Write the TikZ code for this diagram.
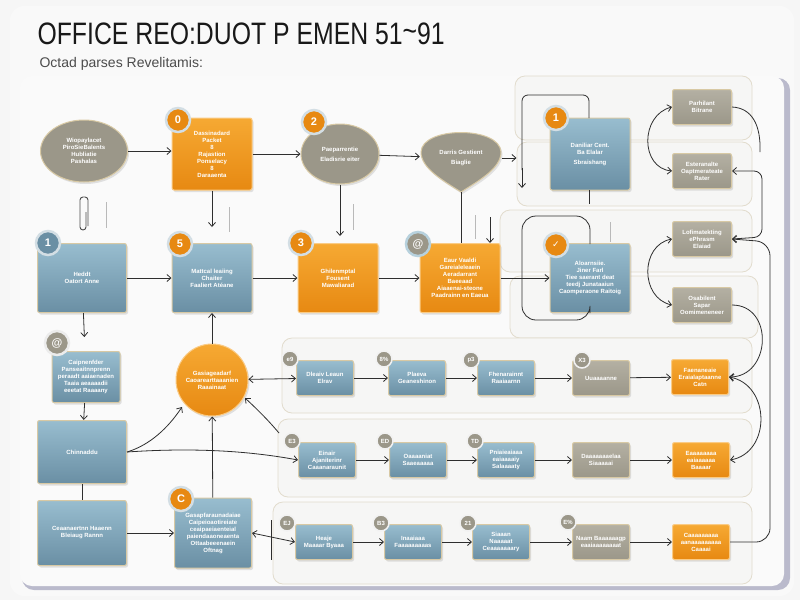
\documentclass[tikz,border=0pt]{standalone}
\usepackage{fontspec}
\setmainfont{Liberation Sans}
\newfontfamily\symfont{DejaVu Sans}
\usepackage{graphicx}
\usetikzlibrary{arrows.meta,positioning,shadows,calc,shapes.geometric}
\definecolor{orngT}{HTML}{F6A933}
\definecolor{orngB}{HTML}{E78912}
\definecolor{bluT}{HTML}{98BDCF}
\definecolor{bluB}{HTML}{6A8FA4}
\definecolor{gryT}{HTML}{B4B0A3}
\definecolor{gryB}{HTML}{9B9789}
\definecolor{tanline}{HTML}{D8C9A4}
\definecolor{inkline}{HTML}{2E2E2E}
\definecolor{bandfill}{HTML}{F6F6F5}
\definecolor{bandline}{HTML}{E2DCCD}
\definecolor{haloblue}{HTML}{D3DEE4}

\begin{document}
\begin{tikzpicture}[x=1pt,y=-1pt,>={Straight Barb[length=4pt,width=7pt]},
  card/.style={rounded corners=2pt, draw=tanline, line width=1pt, text=white, align=center,
    inner sep=1pt, font=\fontsize{6}{7}\selectfont\bfseries,
    drop shadow={opacity=0.22, shadow xshift=1.5pt, shadow yshift=-2pt}},
  blu/.style={card, top color=bluT, bottom color=bluB},
  org/.style={card, top color=orngT, bottom color=orngB, draw=orngT!60!white},
  gry/.style={card, top color=gryT, bottom color=gryB},
  bigbox/.style={minimum width=80pt, minimum height=70pt},
  rowbox/.style={minimum width=57pt, minimum height=35pt},
  sidebox/.style={minimum width=59pt, minimum height=35pt},
  badge/.style={circle, fill=orngB, draw=haloblue, line width=2.5pt, minimum size=24pt,
    inner sep=0pt, text=white, font=\fontsize{11}{11}\selectfont\bfseries},
  tag/.style={circle, fill=gryB, draw=white!90!gray, line width=1.5pt, minimum size=16pt,
    inner sep=0pt, text=white, font=\fontsize{6}{6}\selectfont\bfseries},
  band/.style={rounded corners=10pt, fill=bandfill, draw=bandline, line width=0.8pt},
  wire/.style={draw=inkline, line width=0.8pt},
  arr/.style={wire, ->},
  tick/.style={draw=gray!55, line width=1pt}]

\useasboundingbox (0,0) rectangle (800,600);
% backdrop and panels
\fill[white!93!gray] (0,0) rectangle (800,600);
\fill[rounded corners=14pt, white!95!gray] (10,6) rectangle (794,596);
\fill[rounded corners=12pt, white!88!blue!60!gray] (22,78) rectangle (790,590);
\fill[rounded corners=12pt, white!96!gray] (20,76) rectangle (784,586);

% title
\node[anchor=west, font=\fontsize{31}{32}\selectfont, text=black!90] (title) at (34,34)
  {\scalebox{0.8}[1]{OFFICE REO:DUOT P EMEN 51\raisebox{3pt}{\textasciitilde}91}};
\node[anchor=west, font=\fontsize{14}{15}\selectfont, text=black!70] (subtitle) at (36,64)
  {Octad parses Revelitamis:};

% right hand panels and row bands
\draw[band] (515,76) rectangle (752,140);
\draw[band] (517,142) rectangle (752,206);
\draw[band] (500,210) rectangle (752,272);
\draw[band] (510,276) rectangle (758,338);
\draw[band] (282,338) rectangle (752,413);
\draw[band] (278,419) rectangle (752,497);
\draw[band] (273,502) rectangle (752,584);

% top row
\node[card, ellipse, fill=gryB, minimum width=87pt, minimum height=62pt] (ell) at (84,151)
  {Wiopaylacet\\PiroSieBalents\\Hubliatie\\Pashalas};
\node[org, bigbox, minimum height=72pt] (ordA) at (212,154)
  {Dassinadard\\Packet\\8\\Rajastion\\Ponselacy\\8\\Daraaenta};
\node[card, ellipse, fill=gryB, minimum width=78pt, minimum height=60pt] (circ2) at (340,154)
  {Paeparrentie\\[3pt]Eladisrie eiter};
\fill[gryB, draw=tanline, line width=1pt, drop shadow={opacity=0.2, shadow xshift=1.5pt, shadow yshift=-2pt}]
  (461,192) .. controls (442,180) and (421,168) .. (421,152)
  .. controls (422,126) and (500,126) .. (501,152)
  .. controls (501,168) and (480,180) .. (461,192) -- cycle;
\node[text=white, font=\fontsize{6}{7}\selectfont\bfseries, align=center,
  minimum width=82pt, minimum height=56pt] (shield) at (461,158) {Darris Gestient\\[3pt]Biaglie};
\coordinate (shieldtip) at (461,192);
\node[blu, bigbox, minimum height=72pt] (blueTop) at (590,154)
  {Daniliar Cent.\\Ba Elalar\\[3pt]Sbraishang};

% side column
\node[gry, sidebox] (gray1) at (702,107) {Parhilant\\Bitrane};
\node[gry, sidebox] (gray2) at (702,171) {Esteranalte\\Oaptmerateate\\Rater};
\node[gry, sidebox] (gray3) at (702,239) {Lofimatekting\\ePhrasm\\Elaiad};
\node[gry, sidebox] (gray4) at (702,305) {Osabilent\\Sapar\\Oomimeneneer};

% second row
\node[blu, minimum width=89pt, minimum height=69pt] (box1) at (82,278) {Heddt\\Oatort Anne};
\node[blu, bigbox, minimum height=69pt] (box5) at (212,278)
  {Mattcal leaiing\\Chaiter\\Faaliert Atéane};
\node[org, bigbox, minimum height=69pt] (or3) at (338,278)
  {Ghilenmptal\\Fousent\\Mawaliarad};
\node[org, bigbox, minimum height=69pt] (or4) at (460,278)
  {Eaur Vaaldi\\Gareialeleaein\\Aeradarrant\\Baeeaad\\Aiaaenai-steone\\Paadrainn en Eaeua};
\node[blu, bigbox, minimum height=69pt] (blueCheck) at (590,278)
  {Aloarnsiie.\\Jiner Farl\\Tiee saerant deat\\teedj Junataaiun\\Caomperaone Raitoig};

% left column
\node[blu, minimum width=68pt, minimum height=51pt] (box13) at (86,377)
  {Caipnenfder\\Panseaitnnprenn\\peraadt aaiaenaden\\Taaia aeaaaadii\\eeetat Raaaany};
\node[blu, minimum width=89pt, minimum height=63pt] (chinn) at (82,452) {Chinnaddu};
\node[blu, minimum width=89pt, minimum height=65pt] (blbox) at (82,533)
  {Ceaanaertnn Haaenn\\Bleiaug Rannn};
\node[card, circle, top color=orngT, bottom color=orngB, draw=orngT!60!white, minimum size=72pt] (orcirc) at (212,380)
  {Gasiageadarf\\Caoarearttaaanien\\Raaainaat};
\node[blu, minimum width=77pt, minimum height=70pt] (box6) at (213,533)
  {Gasapfaraunadaiae\\Caipeioaotireiate\\ceaipaeiaenteial\\paiendaaoneaenta\\Ottaabeeenaein\\Oftnag};

% process rows
\node[blu, rowbox] (A1) at (325,378) {Dleaiv Leaun\\Elrav};
\node[blu, rowbox] (A2) at (417,378) {Plaeva\\Geaneshinon};
\node[blu, rowbox] (A3) at (506,378) {Fhenarainnt\\Raaiaarnn};
\node[gry, rowbox] (A4) at (601,378) {Uuaaaanne};
\node[org, rowbox] (A5) at (700,377) {Faenaneaie\\Eraialaptaanne\\Catn};
\node[blu, rowbox] (B1) at (327,460) {Einair\\Ajaniterinr\\Caaanaraunit};
\node[blu, rowbox] (B2) at (418,460) {Oaaaaniat\\Saaeaaaaa};
\node[blu, rowbox] (B3) at (506,460) {Pniaieaiaaa\\eaiaaaaiy\\Salaaaaty};
\node[gry, rowbox] (B4) at (601,460) {Daaaaaaaelaa\\Siaaaaai};
\node[org, rowbox] (B5) at (701,460) {Eaaaaaaaa\\eaiaaaaaa\\Baaaar};
\node[blu, rowbox] (C1) at (324,542) {Heaje\\Maaaar Byaaa};
\node[blu, rowbox] (C2) at (413,542) {Inaaiaaa\\Faaaaaaaaas};
\node[blu, rowbox] (C3) at (501,542) {Siaaan\\Naaaaat\\Ceaaaaaaary};
\node[gry, rowbox] (C4) at (601,542) {Naam Baaaaaagp\\eaaiaaaaaaaat};
\node[org, rowbox] (C5) at (701,542) {Caaaaaaaaa\\aanaaaaaaaaa\\Caaaai};

% badges
\node[badge] (bA) at (178,120) {0};
\node[badge] (b2) at (314,122) {2};
\node[badge] (bT) at (556,118) {1};
\node[badge, fill=bluB] (b1) at (48,243) {1};
\node[badge] (b5) at (180,244) {5};
\node[badge] (b3) at (301,243) {3};
\node[badge, fill=gryB, draw=bluT!70!white] (b4) at (418,244) {@};
\node[badge] (bC) at (556,245) {\symfont\fontsize{9}{9}\selectfont ✓};
\node[badge, fill=gryB, draw=white!85!gray] (b13) at (57,343) {@};
\node[badge] (b6) at (181,499) {C};
\node[tag] (tA1) at (290,359) {e9};
\node[tag] (tA2) at (384,359) {8\%};
\node[tag] (tA3) at (471,360) {p3};
\node[tag] (tA4) at (582,360) {X3};
\node[tag] (tB1) at (292,441) {E3};
\node[tag] (tB2) at (385,441) {ED};
\node[tag] (tB3) at (475,441) {TD};
\node[tag] (tC1) at (287,523) {EJ};
\node[tag] (tC2) at (381,523) {B3};
\node[tag] (tC3) at (468,523) {21};
\node[tag] (tC4) at (568,522) {E\%};

% paper clip and stray ticks
\draw[line width=0.9pt, black!70, rounded corners=3pt] (86,212) -- (86,230) -- (80,230) -- (80,197) -- (88,197) -- (88,226);
\draw[tick] (106,202) -- (106,228);
\draw[tick] (229,207) -- (229,232);
\draw[tick] (353,204) -- (353,230);
\draw[tick] (475,215) -- (475,239);
\draw[tick] (610,222) -- (610,242);
\draw[wire] (271,520) -- (271,560);

% connectors top
\draw[arr] (ell) -- (ell -| ordA.west);
\draw[arr] (ordA.east |- circ2) -- (circ2);
\draw[arr] (circ2) -- (shield);
\draw[arr, shorten >=33pt] (shield) -- (shield -| blueTop.west);
\draw[arr, shorten >=16pt] (ordA) -- (box5);
\draw[arr, shorten >=7pt] (circ2) -- (circ2 |- or3.north);
\draw[wire] (shieldtip) -- (shieldtip |- or4.north);
\coordinate (drop) at (490,217);
\draw[arr] (drop) -- (drop |- or4.north);

% loops round the blue cards
\draw[wire, rounded corners=6pt] (589,118) -- (589,95) -- (522,95) -- (522,170);
\draw[arr] (522,168) -- (522,188);
\draw[wire] (589,190) -- (589,204);
\draw[wire, rounded corners=14pt] (590,244) -- (590,216) -- (522,216) -- (522,320) -- (590,320) -- (590,313);

% second row
\draw[arr] (box1) -- (box5);
\draw[arr] (box5) -- (or3);
\draw[arr] (or3) -- (or4);
\draw[arr] (or4) -- (blueCheck);

% left column
\draw[arr, shorten >=14pt] (box1) -- (box13);
\draw[arr] (box13) -- (chinn);
\draw[wire] (chinn) -- (blbox);
\draw[arr] (blbox) -- (box6);
\draw[arr] (box6) -- (orcirc);
\draw[arr] (orcirc) -- (box5);
\draw[arr] (chinn.east) .. controls (150,445) and (168,428) .. (182,407);
\draw[arr] (chinn.east) .. controls (200,447) and (255,452) .. (B1.west);
\draw[<->, wire] (orcirc) -- (A1);
\coordinate (bandB) at (279,433);
\draw[arr] (bandB) .. controls (268,420) and (258,410) .. (245,398);
\draw[<->, wire] (box6.east) -- (C1.west);

% process rows
\foreach \r in {A,B,C}{
  \draw[arr] (\r1) -- (\r2);
  \draw[arr] (\r2) -- (\r3);
  \draw[arr] (\r3) -- (\r4);
  \draw[arr] (\r4) -- (\r5);
}

% side column links
\draw[<->, wire] (gray1.west) .. controls (640,115) and (640,168) .. (gray2.west);
\draw[<->, wire] (gray3.west) .. controls (640,245) and (640,298) .. (gray4.west);
\coordinate (g1end) at (760,152);
\draw[wire] (gray1.east) .. controls (752,108) and (761,125) .. (g1end);
\draw[<->, wire, rounded corners=8pt] (gray2.east) -- (762,171) -- (762,237) -- (gray3.east);
\draw[arr, rounded corners=14pt] (C5.east) -- (770,542) -- (770,242) -- (gray3.east);
\draw[arr] (gray4.east) to[out=0, in=0, looseness=1.5] (A5.east);
\draw[<->, wire] (A5.east) to[out=-10, in=10, looseness=1.3] (B5.east);
\end{tikzpicture}
\end{document}
